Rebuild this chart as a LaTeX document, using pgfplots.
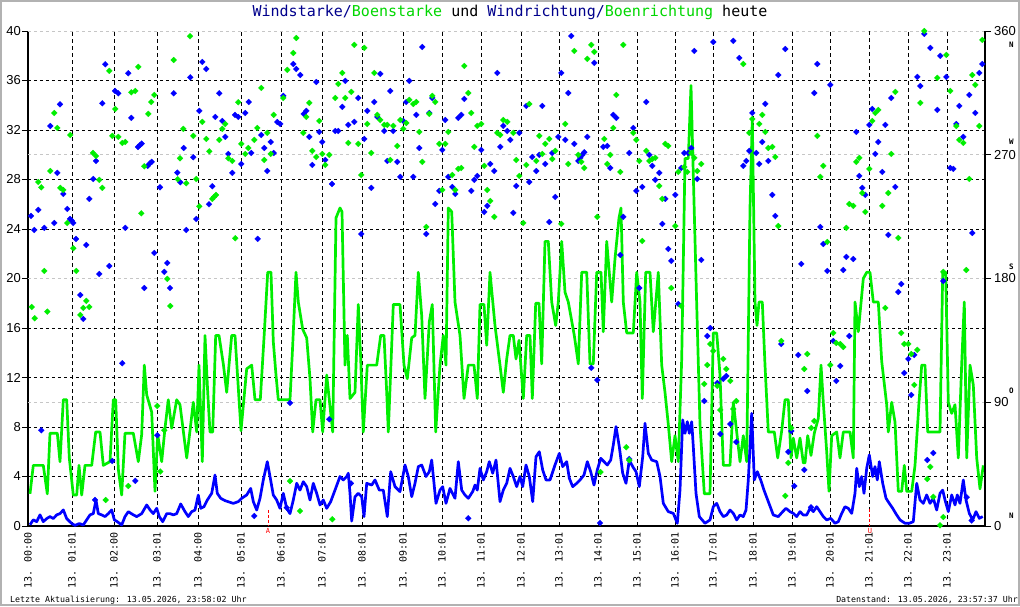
\documentclass[border=0pt]{standalone}
\usepackage{fontspec}
\setmainfont{Liberation Sans}
\newfontfamily\mono{DejaVu Sans Mono}
\usepackage{pgfplots}
\pgfplotsset{compat=1.18}
\definecolor{wblue}{RGB}{0,0,255}
\definecolor{wgreen}{RGB}{0,238,0}
\definecolor{tnavy}{RGB}{0,0,140}
\definecolor{tgreen}{RGB}{0,215,0}
\newcommand{\cl}[2]{\rlap{\smash{\hspace{15pt}\raisebox{#1}{\mono\bfseries\fontsize{7.5}{7.5}\selectfont #2}}}}
\begin{document}
\begin{tikzpicture}[x=1pt,y=1pt]
\useasboundingbox (0,0) rectangle (1020,606);
\fill[white] (0,0) rectangle (1020,606);
\draw[gray!60, line width=2pt] (1,1) rectangle (1019,605);
\node[font=\mono\fontsize{15}{15}\selectfont, anchor=base, inner sep=0pt] at (510,589) {\textcolor{tnavy}{Windstarke/}\textcolor{tgreen}{Boenstarke} und \textcolor{tnavy}{Windrichtung/}\textcolor{tgreen}{Boenrichtung} heute};
\node[font=\mono\fontsize{8.3}{8.3}\selectfont, anchor=base west, inner sep=0pt] at (10,4) {Letzte Aktualisierung: 13.05.2026, 23:58:02 Uhr};
\node[font=\mono\fontsize{8.3}{8.3}\selectfont, anchor=base east, inner sep=0pt] at (1018,4) {Datenstand: 13.05.2026, 23:57:37 Uhr};

\begin{axis}[
  at={(28pt,80pt)}, anchor=south west, scale only axis,
  width=957pt, height=495pt,
  xmin=28, xmax=985, ymin=0, ymax=40,
  axis x line*=bottom, axis y line*=left,
  axis line style={black, line width=1.2pt},
  /pgf/number format/assume math mode=true,
  ytick={0,4,...,40},
  tick align=outside, major tick length=6pt,
  ytick style={black, line width=0.8pt},
  yticklabel style={font=\fontsize{13}{13}\selectfont, inner sep=1pt},
  xtick={28,72,114,157,198,241,281,322,362,403,442,481,521,559,598,637,675,713,753,792,830,869,908,947},
  xticklabels={13. 00:00,13. 01:01,13. 02:00,13. 03:01,13. 04:00,13. 05:01,13. 06:01,13. 07:01,13. 08:01,13. 09:01,13. 10:01,13. 11:01,13. 12:01,13. 13:01,13. 14:01,13. 15:01,13. 16:01,13. 17:01,13. 18:01,13. 19:01,13. 20:01,13. 21:01,13. 22:01,13. 23:01},
  xtick style={draw=none},
  xticklabel style={font=\mono\fontsize{10}{10}\selectfont, rotate=90, anchor=east, inner sep=0pt},
  clip=false,
]
\pgfplotsinvokeforeach{4,8,12,16,24,28,32,36}{\draw[black, line width=0.8pt, dash pattern=on 3pt off 3pt] (axis cs:28,#1) -- (axis cs:985,#1);}
\pgfplotsinvokeforeach{10,20,30,40}{\draw[gray!45, line width=0.8pt, dash pattern=on 3pt off 3pt] (axis cs:28,#1) -- (axis cs:985,#1);}
\pgfplotsinvokeforeach{72,114,157,198,241,281,322,362,403,442,481,521,559,598,637,675,713,753,792,830,908,947}{\draw[black, line width=0.8pt, dash pattern=on 4pt off 3pt] (axis cs:#1,0) -- (axis cs:#1,40);}
\draw[black, line width=0.8pt, dash pattern=on 4pt off 3pt] (axis cs:869,40) -- (axis cs:869,1.4);
\draw[red, line width=1pt, dash pattern=on 3pt off 2pt] (axis cs:869,1.4) -- (axis cs:869,0);
\draw[red, line width=1pt, dash pattern=on 3pt off 2pt] (axis cs:268,1.3) -- (axis cs:268,0);
\node[red, font=\mono\fontsize{7}{7}\selectfont, anchor=north, inner sep=0pt] at (axis cs:268,-0.15) {A};
\node[red, font=\mono\fontsize{7}{7}\selectfont, anchor=north, inner sep=0pt] at (axis cs:870,-0.15) {U};

% Boenstarke
\addplot[wgreen, line width=2.7pt, line join=round, no marks] coordinates {
(30,2.6)(33.3,4.9)(43.3,4.9)(47.3,2.6)(50,7.5)(57.3,7.5)(60,5.2)(63.3,10.2)(66.7,10.2)(69.3,5.5)(73.3,2.5)(76.7,2.5)(79,4.9)(81.7,2.5)(85,4.9)(91.7,4.9)(95.7,7.6)(100,7.6)(103.3,4.9)(110,5.2)(113.3,10.2)(115.7,10.2)(118.3,4.6)(121.7,2.5)(125,7.5)(133.3,7.5)(138.3,5.2)(141.7,7.4)(144.3,13.0)(146.7,10.6)(151.7,9.2)(155,2.8)(157.7,7.4)(161.7,5.2)(165,7.9)(168.3,10.2)(171.7,7.9)(176.7,10.2)(180,9.8)(186.7,5.5)(190,7.7)(193.3,10.0)(196.7,7.6)(199,13.0)(202.3,5.2)(205,15.4)(207.7,10.8)(210,7.6)(212.7,7.6)(215.7,15.4)(219,15.4)(223.3,13.1)(226.7,10.8)(229,13.0)(231.7,15.4)(235,15.4)(241,7.7)(246.7,12.7)(251.7,13.0)(255,10.2)(260.3,10.2)(264.3,15.6)(267.7,20.5)(271,20.5)(273.3,14.9)(276,12.2)(278.3,10.2)(290,10.2)(292.7,14.6)(296,20.5)(298.3,18.1)(302.7,15.9)(306.7,15.2)(310,11.9)(312.7,7.6)(316,10.2)(320,10.2)(322.7,7.6)(326.7,12.2)(332.7,7.6)(336,24.9)(340,25.7)(342,25.4)(345,13.0)(347.3,15.4)(350,10.3)(355,10.8)(358.3,17.9)(360.7,13.5)(363.3,7.6)(367.3,13.0)(376.7,13.0)(380.7,15.4)(384,15.4)(386.7,10.8)(388.3,7.6)(393.3,17.9)(400,17.9)(404,13.0)(407.3,11.9)(411.7,15.2)(415,15.4)(418.3,20.5)(421.7,17.0)(425,10.3)(429.3,16.5)(432.3,17.9)(435.7,7.6)(440,13.0)(443.3,15.4)(446,13.0)(448.3,25.7)(451.7,25.4)(455,18.1)(460,15.4)(464,10.3)(468.3,13.0)(474,13.0)(477.3,10.3)(480,17.9)(484,17.9)(486.7,14.6)(490,20.5)(495,16.2)(500,13.0)(503.3,10.8)(506.7,13.5)(510,15.4)(513.3,15.4)(516,13.5)(519,15.0)(523.3,10.3)(526.7,15.4)(530,15.4)(532.3,10.3)(535.7,18.0)(539,18.0)(541.7,13.1)(545,23.0)(548.3,23.0)(551.7,18.1)(555.7,16.2)(558.3,18.1)(561.7,23.0)(565,18.9)(568.3,18.1)(574.3,15.4)(578.3,13.1)(581.7,20.5)(586.7,20.5)(590,13.1)(593.3,13.1)(596.7,20.5)(601,20.5)(603.3,15.7)(606.7,23.0)(611.7,18.1)(615,21.6)(619,24.9)(621,25.7)(623.3,18.1)(626.7,15.6)(633.3,15.6)(636.7,20.5)(640,18.1)(642.3,10.3)(645.7,20.5)(650,20.5)(653.3,15.7)(658.3,20.5)(661.7,13.0)(665,10.8)(668.3,8.2)(671.7,5.2)(675,7.3)(678.3,5.2)(681.7,13.5)(685,29.7)(688.3,29.7)(691,35.6)(693.3,28.4)(696.7,17.9)(700,8.2)(704.3,2.6)(710,2.6)(713.3,15.6)(716.7,15.6)(720,12.2)(723.3,4.9)(730,4.9)(733.3,10.0)(736.7,7.6)(740,5.2)(743.3,7.3)(746.7,5.2)(750,25.7)(752.3,32.9)(755,18.1)(757,16.2)(759,18.1)(762.3,18.1)(765,13.0)(768.3,7.6)(774.3,7.6)(777.7,5.5)(781.7,7.7)(785,10.2)(788.3,10.2)(791,5.5)(793.3,7.1)(796.7,5.5)(800,7.1)(803.3,5.1)(805,5.1)(807.7,7.3)(811,5.7)(814.3,7.5)(818.3,8.7)(821,13.0)(823.3,10.0)(826.7,6.0)(829,2.8)(831.7,7.3)(836.7,7.6)(840,5.5)(843.3,7.6)(850,7.6)(853.3,5.5)(855,18.1)(858.3,15.7)(863.3,20.0)(866.7,20.5)(870,20.5)(873.3,18.1)(878.3,18.1)(881.7,13.3)(886.7,9.8)(888.3,7.6)(891.7,10.0)(895,8.4)(898.3,2.8)(901.7,2.8)(904.3,4.9)(906.7,2.8)(911.7,2.8)(915,4.9)(919,10.0)(921.7,13.0)(925,13.0)(927.7,7.6)(940,7.6)(942.7,20.5)(945.7,20.5)(948.3,10.0)(951.7,9.1)(955,9.8)(958.3,5.5)(961.7,13.1)(964.3,18.1)(966.7,5.5)(970,13.0)(973.3,11.4)(976.7,5.5)(980,3.0)(983.3,4.9)
};
% Windstarke
\addplot[wblue, line width=2.7pt, line join=round, no marks] coordinates {
(30,0.1)(33.3,0.5)(36.7,0.35)(40,0.9)(43.3,0.35)(46.7,0.6)(50,0.76)(53.3,0.6)(56.7,0.9)(60,1.0)(63.3,1.3)(66.7,0.6)(71.7,0.2)(75,0.05)(79.3,0.2)(83.3,0.08)(86.7,0.5)(90,0.9)(93.3,1.0)(96,2.1)(98.3,1.0)(101.7,0.9)(105,0.76)(108.3,1.0)(111.7,1.3)(114.3,0.5)(117.3,0.35)(121.7,0.08)(125,0.76)(128.3,1.16)(133.3,0.9)(136.7,0.76)(141.7,1.0)(146.7,1.7)(150,1.3)(153.3,1.0)(156.7,1.43)(159.3,0.76)(162.7,0.35)(166.7,1.0)(170,1.0)(173.3,0.9)(176.7,1.0)(180.7,1.78)(185,1.16)(188.3,0.76)(191.7,1.16)(195,1.29)(198.3,2.5)(200.7,1.43)(204,1.56)(207.3,2.1)(211.7,2.64)(215,4.12)(217.3,2.64)(220.7,2.24)(225,2.05)(233.3,1.83)(238.3,1.97)(241.7,2.24)(246.7,2.51)(250.7,3.04)(253.3,1.97)(256.7,1.29)(260,2.24)(263.3,3.72)(267.3,5.2)(270,4.0)(273.3,2.5)(276.7,2.1)(280,1.43)(283.3,2.64)(286.7,1.43)(290,1.0)(293.3,2.1)(296.7,3.45)(300,2.9)(303.3,3.58)(306.7,3.18)(310,2.1)(313.3,3.45)(316.7,2.64)(320,1.7)(323.3,2.1)(326.7,1.43)(330.7,1.97)(335,2.9)(340,4.0)(343.3,3.72)(346.7,4.0)(348.3,4.26)(350,2.64)(351.7,0.4)(355,2.37)(358.3,2.64)(361.7,2.37)(364,0.76)(366.7,3.45)(371.7,3.31)(375,3.72)(379.3,2.9)(383.3,2.9)(387.3,0.76)(390.7,4.39)(395,3.18)(400,2.78)(405,4.93)(408.3,4.0)(411.7,2.37)(415,3.45)(418.3,4.8)(421.7,4.93)(426,4.0)(429.3,4.39)(431.7,5.33)(436,1.83)(440,2.9)(442.7,3.18)(446,1.83)(450,3.04)(455,2.24)(458.3,5.2)(461.7,2.9)(465,2.5)(468.3,2.24)(472.7,2.78)(475,3.31)(477.3,2.9)(480,4.66)(483.3,3.72)(486.7,4.39)(489.3,5.2)(492.7,4.26)(496,5.33)(500,1.97)(503.3,2.9)(506.7,3.45)(510,4.66)(513.3,4.0)(516.7,3.18)(520,4.0)(522.7,3.18)(526,4.93)(529.3,4.0)(532.7,1.97)(536,5.6)(539.3,6.0)(542.7,4.53)(546,3.72)(550,3.72)(555,4.93)(559.3,5.87)(562.7,4.8)(566.7,5.2)(569.3,3.86)(572.7,3.18)(576.7,3.45)(580,3.72)(584,4.12)(587.3,5.2)(590.7,4.39)(594,3.31)(597.3,4.53)(600.7,5.47)(604,5.2)(607.3,4.93)(610.7,5.33)(613.3,6.55)(616,8.03)(619.3,6.41)(622.7,4.26)(626,3.45)(629.3,5.33)(632.7,4.8)(636,4.39)(639.3,3.18)(642.7,5.6)(645,8.3)(648.3,5.87)(651.7,5.33)(656.7,5.2)(660,4.0)(663.3,1.83)(668.3,1.16)(673.3,1.02)(677.3,0.22)(680,2.9)(682.7,8.57)(685,7.49)(687.3,8.43)(689.3,7.49)(691.7,8.43)(693.3,6.41)(696,2.64)(699.3,0.76)(705,0.22)(710,0.49)(713.3,1.56)(716.7,1.83)(720,1.16)(723.3,0.76)(726.7,0.89)(730,1.29)(733.3,1.02)(736.7,0.49)(740,0.89)(743.3,0.76)(746,1.29)(748.3,3.72)(751.7,9.1)(754.3,3.72)(757.3,4.39)(760.7,3.72)(764,2.9)(768.3,1.97)(773.3,0.89)(778.3,0.76)(782.7,1.16)(786,1.43)(790,1.16)(793.3,1.02)(796.7,0.76)(800,1.16)(803.3,0.89)(806.7,0.89)(810,1.43)(813.3,1.16)(816.7,1.56)(820,1.16)(823.3,0.76)(826.7,0.49)(830.7,0.62)(835,0.22)(838.3,0.35)(841.7,1.02)(845,1.56)(848.3,1.43)(851.7,1.02)(855,2.64)(856.7,4.66)(859.3,3.18)(861.7,4.0)(864,2.64)(866.7,4.66)(869.3,5.74)(872.7,4.0)(875,4.8)(877.3,3.72)(879.3,5.2)(882.7,3.45)(886,2.24)(889.3,1.83)(892.7,1.43)(896.7,0.89)(900,0.49)(905,0.22)(909.3,0.22)(913.3,0.35)(916.7,3.45)(920,2.1)(923.3,1.83)(926.7,2.51)(930,1.83)(933.3,2.24)(936.7,1.29)(940,2.64)(942.7,2.9)(945,2.1)(948.3,1.16)(951.7,2.51)(955,1.7)(957.3,2.51)(960,1.83)(963.3,3.72)(966,2.1)(969.3,1.02)(972.7,0.49)(976,1.16)(979.3,0.62)(982.7,0.76)
};
\end{axis}

\begin{axis}[
  at={(28pt,80pt)}, anchor=south west, scale only axis,
  width=957pt, height=495pt,
  xmin=28, xmax=985, ymin=0, ymax=360,
  axis x line=none, axis y line*=right,
  axis line style={black, line width=1.2pt},
  ytick={0,90,180,270,360},
  yticklabels={{\cl{12pt}{N}0},{\cl{13.5pt}{O}90},{\cl{13.5pt}{S}180},{\cl{15pt}{W}270},{\cl{-12pt}{N}360}},
  tick align=outside, major tick length=6pt,
  ytick style={black, line width=0.8pt},
  yticklabel style={font=\fontsize{13}{13}\selectfont, anchor=west, inner sep=0pt, xshift=3pt},
  clip=false,
]
% Windrichtung
\addplot[only marks, mark=square*, mark size=2.1pt, wblue, mark options={rotate=45, line width=0.2pt}] coordinates {
(31,225.5)(34.3,215.3)(38.3,229.9)(41.3,69.6)(44.3,216.8)(50.3,290.9)(54.3,220.4)(57.3,256.8)(60,306.7)(63.3,241.5)(67.3,230.6)(70,223.3)(71.7,222.1)(73.3,220.4)(76,208.8)(80.3,168)(83.3,150.6)(86.3,204.4)(89.3,237.9)(93.3,252.4)(95,19)(96,265.5)(99.3,183.3)(102.3,307.4)(105.3,335.8)(109.3,189.1)(112.3,47.3)(115,316.4)(118.3,314.7)(122.3,118.4)(125.3,216.8)(128.3,329.3)(131.3,296.8)(135.3,32.8)(138,275.7)(140,277.1)(141.7,278.1)(144.3,173.1)(147.7,261.9)(149.7,263.6)(151.7,264.8)(154.3,198.6)(157.3,66)(160,246.3)(164.3,184.8)(167.3,191.3)(170,173.1)(173.7,314.7)(177.3,257)(180.3,250)(183.7,274.9)(186.3,215.3)(190.3,326.3)(193.3,268.2)(196.3,223.3)(199.3,301.9)(202.3,337.5)(206.3,332.4)(209,234)(212.3,247.1)(215.3,297.5)(219.3,314.7)(222.3,294.6)(225.3,283)(228.3,270.6)(232.3,256.8)(235,299)(238.3,297.5)(241.3,263.3)(245.3,300.4)(248.7,308.4)(251.3,271.3)(254.3,7.3)(257.7,208.8)(261.3,284.4)(264.3,274.9)(267.3,258.2)(270.7,279.3)(273.7,271.3)(277.3,293.8)(280.3,292.4)(283.3,312.8)(286.7,13.3)(290,89.5)(293.3,336)(296.3,332.4)(300.3,328)(303.7,299.7)(306.3,301.9)(309.3,283)(312.3,262.6)(316.3,322.9)(319.3,286.6)(322.3,279.3)(325.3,266.2)(329.3,77.6)(332,248.8)(335.3,287.3)(338.3,287.3)(342.3,304.8)(345.3,323.7)(348.3,291.7)(351,31)(354.3,293.9)(358.3,311.3)(361.3,212.4)(364.3,281.5)(367.3,301.9)(371.3,245.9)(374.3,308.4)(377.3,297.5)(380.3,328.8)(384.3,287.3)(387.3,265.5)(390.3,316.4)(393.3,287.3)(397.3,264.8)(400.3,253.9)(403.3,294.6)(406.3,308.4)(409.3,323.7)(413.3,253.9)(416.3,299)(419.3,274.9)(422.3,348.4)(426.3,212.4)(429.3,300.4)(432.3,311.3)(435.3,234.2)(439.3,243.7)(442.3,273.5)(445.3,295.3)(448.3,253.9)(452.3,246.6)(455.3,241.5)(458.3,296.8)(461.3,299)(464.3,310.6)(468.3,5.6)(471.3,243.7)(474.3,251.7)(477.3,254.6)(481.3,273.5)(484.3,228.4)(487.3,232.8)(490.3,263.3)(494.3,258.2)(497.3,329.5)(500.3,275.7)(503.3,291)(507.3,287.3)(510.3,280.8)(513.3,227.7)(516.3,247.3)(519.3,285.9)(526.3,305.5)(529.3,250.2)(532.3,268.4)(536.3,258.2)(539.3,269.9)(542.3,305.5)(545.3,263.3)(549.3,221.1)(552.3,271.3)(555.3,239.3)(558.3,283)(561.3,329.5)(565.3,280.8)(568.3,314.9)(571.3,356.4)(574.3,277.9)(578.3,265.5)(580.3,267.7)(582.3,269.9)(584.3,271.8)(587.3,283)(591.3,115)(594.3,336.8)(597.3,106.2)(600,2.2)(603.3,275.7)(607.3,276.4)(610.3,260.4)(613.3,299)(616.3,296.8)(620.3,197.1)(623.3,224.8)(629.3,48.7)(629.3,271.3)(633.3,289.5)(636.3,243.7)(639.3,173.1)(642.3,246.6)(646.3,308.4)(649.3,269.9)(652.3,261.9)(655.3,251.7)(659.3,256.8)(662.3,219.7)(665.3,237.9)(668.3,201.5)(671.3,192.8)(675.3,240.8)(678.3,161.5)(681.3,260.4)(684.3,271.3)(688.3,271.3)(691.3,274.9)(694.3,345.5)(697.3,252.4)(701.3,193.5)(704.3,90.9)(707.3,138.2)(710.3,144)(713.3,352)(717.3,104)(720.3,66.9)(723.3,107)(726.3,109.1)(730.3,74.2)(733.3,352.8)(736.3,61.1)(739.3,340.4)(743.3,261.9)(746.3,265.5)(749.3,272.8)(752.3,300.4)(756.3,271.3)(759.3,263.3)(762.3,279.3)(765.3,307)(768.3,265.5)(772.3,240.8)(775.3,225.5)(778.3,328)(781.3,132.4)(785.3,346.9)(788.3,53.9)(791.3,69.1)(794.3,29.1)(798.3,124.4)(801.3,190.6)(804.3,40.8)(807.3,98.2)(811,13.6)(814.3,314.9)(817.3,336)(820.3,217.5)(823.3,205.1)(827.3,185.5)(830.3,320.8)(833.3,134.6)(836.3,105.5)(840.3,116.4)(843.3,186.2)(846.3,195.7)(849.3,138.2)(853.3,194.2)(856.3,286.6)(859.3,254.6)(862.3,245.9)(865.3,240.8)(869.3,291.7)(872.3,303.3)(875.3,270.6)(878.3,279.3)(882.3,257.5)(885.3,291.7)(888.3,211.7)(891.3,311.3)(895.3,246.6)(898.3,170.2)(901.3,176)(904.3,111.3)(908.3,121.5)(911.3,95.3)(914.3,124.4)(917.3,326.6)(920.3,320)(924.3,357.9)(927.3,48)(930.3,347.7)(933.3,53.1)(937.3,302.6)(940.3,341.9)(943.3,178.2)(946.3,326.6)(950.3,260.4)(953.3,259.7)(956.3,292.4)(959.3,305.5)(963.3,283)(966.7,20.9)(969.3,313.5)(971.7,4)(972.3,213.1)(975.3,300.4)(979.3,329.5)(982.3,336)
};
% Boenrichtung
\addplot[only marks, mark=square*, mark size=2.1pt, wgreen, mark options={rotate=45, line width=0.2pt}] coordinates {
(31.7,159.3)(34.7,151.1)(38.3,250.2)(41.3,246.3)(44.3,185.5)(47.3,155.9)(50.3,258.2)(54.3,300.4)(57.3,289.5)(60.3,245.9)(63.3,244.4)(67.3,220.4)(70.3,284.4)(73.3,202)(76.3,185.5)(80.3,153.5)(83.3,158.6)(86.3,163.7)(89.3,159.3)(93,271.3)(96,269.1)(99.3,251.7)(102.3,245.9)(105.7,18.9)(109.3,331)(112.3,283.7)(115.3,303.3)(118.3,283)(122.3,278.6)(125.3,279.3)(128.3,29.1)(131.3,315.4)(135.3,316.4)(138.3,333.9)(141.3,227.4)(144.3,261.6)(148.3,299.7)(151.3,308.4)(154.3,313.5)(157.3,87.3)(160.3,39.6)(164.3,69.6)(167.3,179.7)(170.3,160)(173.7,338.9)(177.7,252.2)(180,267.4)(183.3,288.8)(186.3,249.3)(190,356.2)(193.3,283.7)(196.3,252.4)(199.3,232.5)(202.3,293.9)(206.3,281.5)(209.3,272.5)(212.3,237.9)(214,239.3)(216,240.8)(219.3,280.8)(222.3,288.8)(225.3,292.4)(228.3,267.4)(232.3,265.5)(235.3,209.3)(238.3,308.2)(241.3,277.9)(245.3,270.6)(248.3,274.9)(254.3,280.8)(257.3,289.5)(261.3,318.6)(264.3,266.2)(267.3,285.9)(270.7,270.6)(273.7,299)(283.3,311.3)(287.3,331.7)(290,32.7)(293.3,344)(296.3,354.9)(300,10.9)(303.3,285.9)(306.3,297.5)(309.3,307.7)(312.3,272.8)(316.3,268.4)(319.3,294.6)(322.3,270.6)(325.3,262.6)(329.3,269.9)(332.3,4.9)(335.3,311.3)(338.3,321.5)(342.3,329.5)(345.3,311.3)(348.3,278.6)(351.3,315.7)(354.3,349.9)(358.3,277.9)(361.3,255.3)(364.3,347.7)(367.3,292.4)(371.3,271.3)(374.3,329.5)(377.3,299)(380.3,295.3)(384.3,291.7)(387.3,291.7)(390.3,266.2)(393.3,291)(397.3,276.4)(400.3,295.3)(403.3,288.8)(406.3,293.1)(409.3,309.9)(413.3,306.9)(416.3,308.4)(419.3,286.6)(422.3,264.8)(426.3,217.5)(429.3,299.7)(432.3,312.8)(435.3,308.4)(439.3,277.9)(442.3,244.4)(445.3,277.9)(448.3,286.6)(452.3,255.3)(455.3,244.4)(458.3,259.7)(461.3,260.4)(464.3,334.6)(468.3,314.9)(471.3,300.4)(474.3,275.7)(477.3,291)(481.3,292.4)(484.3,261.9)(487.3,244.4)(490.3,236.4)(494.3,224.8)(497.3,285.9)(500.3,284.4)(503.3,295.3)(507.3,293.9)(513.3,285.9)(516.3,266.2)(519.3,254.6)(523.3,220.4)(526.3,262.6)(529.3,306.9)(536.3,265.5)(539.3,283.7)(542.3,270.6)(545.3,277.9)(549.3,281.5)(552.3,266.9)(555.3,272.8)(561.3,219.7)(565.3,292.4)(568.3,263.3)(574.3,345.5)(578.3,269.9)(581.3,264.8)(584.3,260.4)(587.3,339.7)(591.3,349.9)(594.3,344.8)(597.3,224.8)(600.5,39.2)(604.3,281.5)(607.3,263.3)(610.3,269.9)(613.3,289.5)(616.3,313.5)(620.3,257.5)(623.3,349.9)(626.3,57.3)(629.3,47.8)(633.3,285.9)(636.3,280.8)(639.3,265.5)(642.3,207.3)(646.3,272.8)(649.3,265.5)(652.3,266.9)(655.3,267.7)(659.3,247.3)(662.3,237.9)(665.3,277.9)(668.3,276.4)(671.3,173.1)(675.3,218.2)(678.3,257.5)(681.3,160)(684.3,261.1)(687.3,257.5)(691.3,271.3)(694.3,267.7)(697.3,258.2)(701.3,263.3)(704.3,103.3)(707.3,117.1)(710.3,132.4)(713.3,127.3)(717.3,101.9)(720.3,84.4)(723.3,121.5)(726.3,114.2)(730.3,105.5)(733.3,85.1)(736.3,90.9)(743.3,336)(749.3,285.9)(752.3,296)(759.3,292.4)(762.3,299)(765.3,286.6)(768.3,274.9)(772.3,275.7)(775.3,268.4)(778.3,218.2)(781.3,134.6)(785.3,21.9)(788.3,45.9)(791.3,71.3)(804.3,114.2)(807.3,125.1)(811.3,71.3)(814.3,76.4)(817.3,283.7)(820.3,253.9)(823.3,261.9)(827.3,206.6)(830.3,117.1)(833.3,140.4)(836.3,133.1)(840.3,132.4)(843.3,130.2)(846.3,216.8)(849.3,234.2)(853.3,232.8)(856.3,264.8)(859.3,267.7)(862.3,242.2)(865.3,228.4)(869.3,259.7)(872.3,294.6)(875.3,300.4)(878.3,302.6)(882.3,232.8)(885.3,158.6)(888.3,242.2)(891.3,270.6)(895.3,315.7)(898.3,209.5)(901.3,140.4)(904.3,132.4)(908.3,132.4)(911.3,125.1)(914.3,102.6)(917.3,128.1)(920.3,307.7)(924.3,360)(927.3,34.2)(930.3,43)(933.3,21.2)(937.3,325.9)(940,0.5)(943.3,6.5)(943.3,184.8)(946.3,342.6)(950.3,316.4)(956.3,290.9)(959.3,280.8)(963.3,278.6)(966.3,186.2)(969.3,252.4)(972.3,328)(975.3,320.8)(979.3,290.9)(982.3,353.5)
};
\end{axis}
\end{tikzpicture}
\end{document}
